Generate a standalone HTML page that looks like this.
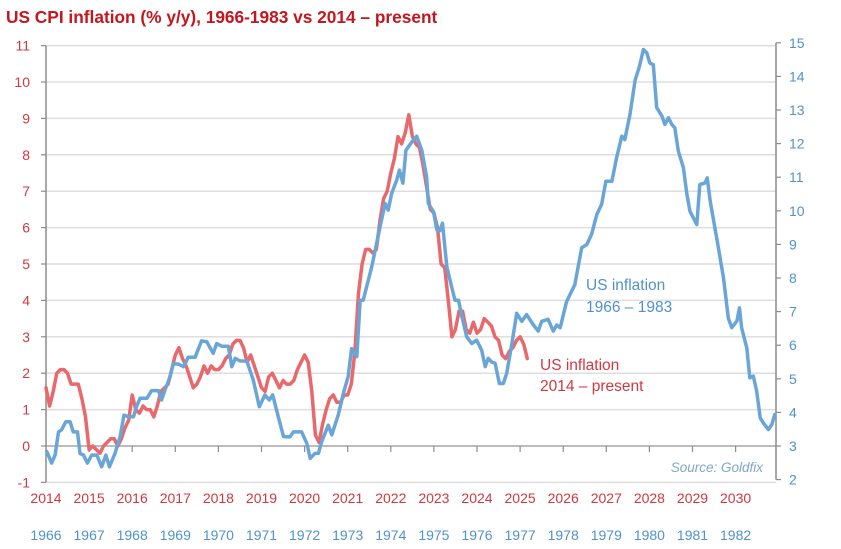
<!DOCTYPE html>
<html><head><meta charset="utf-8"><style>
html,body{margin:0;padding:0;background:#fff;}
svg{display:block;font-family:"Liberation Sans",sans-serif;}
</style></head><body>
<svg id="chart" width="841" height="549" viewBox="0 0 841 549" xmlns="http://www.w3.org/2000/svg">
<text x="6" y="23" font-size="17.3" font-weight="bold" fill="#c4161c">US CPI inflation (% y/y), 1966-1983 vs 2014 – present</text>
<g id="grid"></g><g id="axes"></g><g id="series"></g>
<text x="586" y="290" font-size="15.5" fill="#4f92cc">US inflation</text>
<text x="586" y="312" font-size="15.5" fill="#4f92cc">1966 – 1983</text>
<text x="540" y="370" font-size="15.5" fill="#d2383f">US inflation</text>
<text x="540" y="391" font-size="15.5" fill="#d2383f">2014 – present</text>
<text x="763" y="472" font-size="13.5" font-style="italic" fill="#7fa6c9" text-anchor="end">Source: Goldfix</text>
</svg>
<script>
const leftTicks=[-1,0,1,2,3,4,5,6,7,8,9,10,11];
const rightTicks=[2,3,4,5,6,7,8,9,10,11,12,13,14,15];
const redYearLabels=["2014","2015","2016","2017","2018","2019","2020","2021","2022","2023","2024","2025","2026","2027","2028","2029","2030"];
const blueYearLabels=["1966","1967","1968","1969","1970","1971","1972","1973","1974","1975","1976","1977","1978","1979","1980","1981","1982"];
const redStart=2014;
const redValues=[1.6,1.1,1.5,2.0,2.1,2.1,2.0,1.7,1.7,1.7,1.3,0.8,
-0.1,0.0,-0.1,-0.2,0.0,0.1,0.2,0.2,0.0,0.2,0.5,0.7,
1.4,1.0,0.9,1.1,1.0,1.0,0.8,1.1,1.5,1.6,1.7,2.1,
2.5,2.7,2.4,2.2,1.9,1.6,1.7,1.9,2.2,2.0,2.2,2.1,
2.1,2.2,2.4,2.5,2.8,2.9,2.9,2.7,2.3,2.5,2.2,1.9,
1.6,1.5,1.9,2.0,1.8,1.6,1.8,1.7,1.7,1.8,2.1,2.3,
2.5,2.3,1.5,0.3,0.1,0.6,1.0,1.3,1.4,1.2,1.2,1.4,
1.4,1.7,2.6,4.2,5.0,5.4,5.4,5.3,5.4,6.2,6.8,7.0,
7.5,7.9,8.5,8.3,8.6,9.1,8.5,8.3,8.2,7.7,7.1,6.5,
6.4,6.0,5.0,4.9,4.0,3.0,3.2,3.7,3.7,3.2,3.1,3.4,
3.1,3.2,3.5,3.4,3.3,3.0,2.9,2.5,2.4,2.6,2.7,2.9,
3.0,2.8,2.4];
const blueDates=[1966.02,1966.13,1966.21,1966.29,1966.36,1966.46,1966.56,1966.63,1966.73,1966.79,1966.87,1966.96,1967.06,1967.18,1967.29,1967.39,1967.47,1967.60,1967.72,1967.81,1967.91,1968.03,1968.10,1968.18,1968.34,1968.45,1968.61,1968.68,1968.76,1968.88,1968.95,1969.07,1969.19,1969.30,1969.46,1969.61,1969.73,1969.88,1969.96,1970.08,1970.23,1970.31,1970.39,1970.50,1970.66,1970.81,1970.95,1971.08,1971.18,1971.26,1971.39,1971.51,1971.66,1971.74,1971.93,1972.05,1972.13,1972.24,1972.32,1972.40,1972.55,1972.63,1972.78,1972.90,1973.01,1973.09,1973.21,1973.29,1973.36,1973.56,1973.75,1973.87,1973.94,1974.02,1974.14,1974.20,1974.28,1974.35,1974.49,1974.60,1974.72,1974.83,1974.87,1974.99,1975.07,1975.13,1975.20,1975.30,1975.41,1975.49,1975.57,1975.65,1975.76,1975.88,1975.99,1976.11,1976.19,1976.26,1976.34,1976.42,1976.52,1976.61,1976.69,1976.81,1976.92,1977.04,1977.15,1977.31,1977.42,1977.50,1977.65,1977.77,1977.85,1977.93,1978.08,1978.27,1978.43,1978.55,1978.66,1978.78,1978.89,1978.99,1979.13,1979.24,1979.36,1979.43,1979.55,1979.67,1979.77,1979.86,1979.94,1980.01,1980.09,1980.17,1980.29,1980.36,1980.44,1980.52,1980.59,1980.67,1980.79,1980.87,1980.94,1981.02,1981.10,1981.17,1981.29,1981.34,1981.41,1981.52,1981.60,1981.72,1981.83,1981.91,1982.03,1982.09,1982.14,1982.26,1982.33,1982.41,1982.49,1982.57,1982.64,1982.76,1982.84,1982.91];
const blueValues=[2.83,2.49,2.73,3.42,3.48,3.72,3.72,3.42,3.42,2.78,2.73,2.49,2.73,2.73,2.38,2.73,2.38,2.78,3.28,3.92,3.87,3.87,4.17,4.42,4.42,4.65,4.65,4.37,4.67,5.06,5.44,5.44,5.36,5.64,5.64,6.13,6.10,5.76,6.05,5.97,5.97,5.36,5.61,5.53,5.53,4.96,4.17,4.52,4.37,4.52,3.87,3.28,3.27,3.42,3.42,3.08,2.63,2.78,2.78,3.14,3.62,3.33,3.92,4.57,5.06,5.90,5.66,7.34,7.34,8.34,9.52,10.22,10.02,10.52,10.92,11.21,10.82,11.80,12.05,12.22,11.80,11.01,10.22,9.97,9.43,9.40,9.63,8.34,7.74,7.34,7.34,6.85,6.25,6.05,6.15,5.85,5.36,5.61,5.50,5.46,4.86,4.86,5.16,6.05,6.95,6.71,6.91,6.60,6.42,6.71,6.77,6.42,6.60,6.52,7.30,7.80,8.90,9.00,9.30,9.89,10.19,10.88,10.88,11.58,12.22,12.12,12.87,13.90,14.30,14.80,14.70,14.40,14.35,13.07,12.82,12.57,12.77,12.57,12.47,11.78,11.28,10.49,9.99,9.79,9.59,10.78,10.83,10.98,10.29,9.49,8.90,8.00,6.81,6.52,6.72,7.11,6.52,5.92,5.03,5.08,4.63,3.84,3.69,3.49,3.64,3.94];

const NS='http://www.w3.org/2000/svg';
const X0=46,X1=776,YW=43.1;
function xRed(t){return X0+(t-2014)*YW;}
function xBlue(t){return X0+(t-1966)*YW;}
function yLeft(v){return 446-v*36.4;}
function yRight(v){return 446-(v-3)*33.6;}
function mk(tag,attrs,parent){const e=document.createElementNS(NS,tag);for(const k in attrs)e.setAttribute(k,attrs[k]);parent.appendChild(e);return e;}
const grid=document.getElementById('grid'),axes=document.getElementById('axes'),series=document.getElementById('series');
leftTicks.forEach(v=>{
  const y=yLeft(v);
  const g=mk('line',{x1:X0,x2:X1,y1:y,y2:y,stroke:v===0?'#a6a6a6':'#dedede','stroke-width':1.5},grid);
  
  
  const tk=mk('line',{x1:X0-5,x2:X0,y1:y,y2:y,stroke:'#8c8c8c','stroke-width':1.2},axes);
  
  
  const t=mk('text',{x:30,y:y+5,'font-size':14,fill:'#d2383f','text-anchor':'end'},axes);
  t.textContent=v;
  
  
});
rightTicks.forEach(v=>{
  const y=yRight(v);
  const tk=mk('line',{x1:X1,x2:X1+5,y1:y,y2:y,stroke:'#8c8c8c','stroke-width':1.2},axes);
  
  
  const t=mk('text',{x:X1+13,y:y+5,'font-size':14,fill:'#4f92cc'},axes);
  t.textContent=v;
  
  
});
const la=mk('line',{x1:X0,x2:X0,y1:yLeft(11),y2:yLeft(-1),stroke:'#8c8c8c','stroke-width':1.5},axes);


const ra=mk('line',{x1:X1,x2:X1,y1:yRight(15),y2:yRight(2),stroke:'#8c8c8c','stroke-width':1.5},axes);


redYearLabels.forEach((lab,i)=>{
  const x=xRed(2014+i);
  if(i>0){const tk=mk('line',{x1:x,x2:x,y1:446,y2:452,stroke:'#8c8c8c','stroke-width':1.2},axes);
  
  }
  const t=mk('text',{x:x,y:503,'font-size':14,fill:'#d2383f','text-anchor':'middle'},axes);
  t.textContent=lab;
  
  
});
blueYearLabels.forEach((lab,i)=>{
  const t=mk('text',{x:xBlue(1966+i),y:540,'font-size':14,fill:'#4f92cc','text-anchor':'middle'},axes);
  t.textContent=lab;
  
  
});
const bp=blueDates.map((t,i)=>xBlue(t).toFixed(1)+','+yRight(blueValues[i]).toFixed(1)).join(' ');
const bl=mk('polyline',{points:bp,fill:'none',stroke:'#6aa5d8','stroke-width':3.5,'stroke-linejoin':'round','stroke-linecap':'round'},series);


const rp=redValues.map((v,i)=>xRed(redStart+i/12).toFixed(1)+','+yLeft(v).toFixed(1)).join(' ');
const rl=mk('polyline',{points:rp,fill:'none',stroke:'#e8686c','stroke-width':3.5,'stroke-linejoin':'round','stroke-linecap':'round'},series);


series.appendChild(bl);
</script>
</body></html>
